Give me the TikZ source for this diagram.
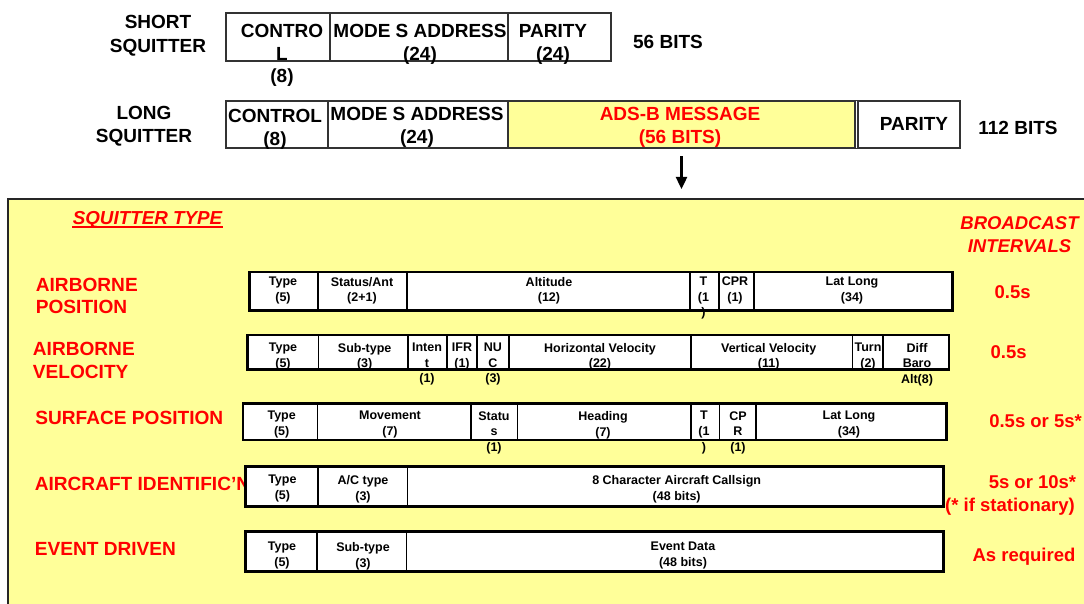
\documentclass[tikz,border=0pt]{standalone}
\usepackage{fontspec}
\setmainfont{Liberation Sans}
\usetikzlibrary{fit,arrows.meta}
\definecolor{pyellow}{HTML}{FFFF99}
\definecolor{pred}{HTML}{FF0000}
\definecolor{boxgray}{HTML}{333333}
\newcommand{\bigfnt}{\fontsize{9.25}{11}\selectfont\bfseries}
\newcommand{\leftfnt}{\fontsize{9.55}{11}\selectfont\bfseries}
\newcommand{\topfnt}{\fontsize{9.5}{11.25}\selectfont\bfseries}
\newcommand{\fieldfnt}{\fontsize{6.25}{7.8}\selectfont\bfseries}
\newcommand{\bitfld}[5]{%
  \node[fieldbox, fit={(#2,\rowtop) (#3,\rowbot)}] (#1) {};
  \node[fieldtxt] (#1t) at (#4,\rowtxt) {#5};}
\begin{document}
\begin{tikzpicture}[x=0.5pt,y=-0.5pt,
  fieldbox/.style={draw=black, fill=white, line width=0.75pt, inner sep=0pt},
  fieldtxt/.style={anchor=north, align=center, inner sep=0pt, font=\fieldfnt},
  topbox/.style={draw=boxgray, fill=white, line width=0.7pt, inner sep=0pt},
  toptxt/.style={anchor=north, align=center, inner sep=0pt, font=\topfnt},
  outlinebox/.style={draw=black, line width=1pt},
  panelbox/.style={draw=black!85, fill=pyellow, line width=1pt, inner sep=0pt},
  redlbl/.style={text=pred, inner sep=0pt, font=\bigfnt},
  leftlbl/.style={text=pred, inner sep=0pt, font=\leftfnt},
  arr/.style={-{Triangle[length=6pt,width=5.5pt]}, line width=1.2pt, black}]
\useasboundingbox (0,0) rectangle (1084,604);
\clip (0,0) rectangle (1084,604);

% ---------- short squitter ----------
\node[toptxt, font={\fontsize{9.5}{12}\selectfont\bfseries}] (shortlbl) at (158,15.2) {SHORT\\SQUITTER};
\node[topbox, fit={(226,13) (330,61)}] (sc) {};
\node[topbox, fit={(330,13) (508,61)}] (sm) {};
\node[topbox, fit={(508,13) (611,61)}] (sp) {};
\node[toptxt] (sct) at (282,24.2) {CONTRO\\L\\(8)};
\node[toptxt] (smt) at (420,24.2) {MODE S ADDRESS\\(24)};
\node[toptxt] (spt) at (553,24.2) {PARITY\\(24)};
\node[inner sep=0pt, font=\topfnt, anchor=base] (shortbits) at (668,48.8) {56 BITS};

% ---------- long squitter ----------
\node[toptxt, font={\fontsize{9.5}{11.5}\selectfont\bfseries}] (longlbl) at (144,106.2) {LONG\\SQUITTER};
\node[topbox, fit={(226,101) (328,148)}] (lc) {};
\node[topbox, fit={(328,101) (508,148)}] (lm) {};
\node[topbox, fit={(858,101) (960,148)}] (lp) {};
\node[topbox, fill=pyellow, line width=1.1pt, fit={(508,101) (855,148)}] (la) {};
\draw[draw=boxgray, line width=0.7pt] (lc.north west) rectangle (lp.south east);
\node[toptxt] (lct) at (275,109.2) {CONTROL\\(8)};
\node[toptxt] (lmt) at (417,107.2) {MODE S ADDRESS\\(24)};
\node[toptxt, text=pred] (lat) at (680,107.2) {ADS-B MESSAGE\\(56 BITS)};
\node[toptxt] (lpt) at (914,117.2) {PARITY};
\node[inner sep=0pt, font=\topfnt, anchor=base] (longbits) at (1018,134.8) {112 BITS};

% ---------- panel ----------
\node[panelbox, fit={(8,199) (1092,614)}] (panel) {};
\draw[arr, shorten <=3.5pt, shorten >=4.5pt] (la.south) -- (la.south |- panel.north);

\node[redlbl, font={\fontsize{9.4}{11}\selectfont\bfseries\itshape}, anchor=base] (sqt) at (147.5,225) {SQUITTER TYPE};
\draw[pred, line width=0.8pt] ([yshift=-0.9pt]sqt.base west) -- ([yshift=-0.9pt]sqt.base east);
\node[redlbl, font={\fontsize{9.25}{11.5}\selectfont\bfseries\itshape}, anchor=north, align=center] (bint) at (1019.5,216.4) {BROADCAST\\INTERVALS};

\node[leftlbl, anchor=north west, align=left] (lab1) at (35.5,278.2) {AIRBORNE\\POSITION};
\node[leftlbl, anchor=north west, align=left, font={\fontsize{9.55}{11.5}\selectfont\bfseries}] (lab2) at (32.5,342.2) {AIRBORNE\\VELOCITY};
\node[leftlbl, anchor=base west] (lab3) at (35,424.8) {SURFACE POSITION};
\node[leftlbl, anchor=base west] (lab4) at (34.4,491) {AIRCRAFT IDENTIFIC’N};
\node[leftlbl, anchor=base west] (lab5) at (34.4,555.8) {EVENT DRIVEN};

\node[redlbl, anchor=base] (int1) at (1012.7,298.3) {0.5s};
\node[redlbl, anchor=base] (int2) at (1008.7,358.3) {0.5s};
\node[redlbl, anchor=base] (int3) at (1035.6,427.6) {0.5s or 5s*};
\node[redlbl, anchor=base] (int4) at (1032.5,488.3) {5s or 10s*};
\node[redlbl, anchor=base] (int5) at (1010,512) {(* if stationary)};
\node[redlbl, anchor=base] (int6) at (1024,561.6) {As required};

% ---------- row 1: airborne position ----------
\def\rowtop{272.5}\def\rowbot{310}\def\rowtxt{276.6}
\bitfld{ra1}{250}{318}{283}{Type\\(5)}
\bitfld{ra2}{318}{407}{362}{Status/Ant\\(2+1)}
\bitfld{ra3}{407}{690}{549}{Altitude\\(12)}
\bitfld{ra4}{690}{719}{703.5}{T\\(1\\)}
\bitfld{ra5}{719}{754}{735}{CPR\\(1)}
\bitfld{ra6}{754}{952}{852}{Lat Long\\(34)}
\draw[outlinebox] (ra1.north west) rectangle (ra6.south east);

% ---------- row 2: airborne velocity ----------
\def\rowtop{335.5}\def\rowbot{369}\def\rowtxt{342.6}
\bitfld{rb1}{248}{318.7}{283}{Type\\(5)}
\bitfld{rb2}{318.7}{408}{364.7}{Sub-type\\(3)}
\bitfld{rb3}{408}{447}{427}{Inten\\t\\(1)}
\bitfld{rb4}{447}{477}{462}{IFR\\(1)}
\bitfld{rb5}{477}{509}{493}{NU\\C\\(3)}
\bitfld{rb6}{509}{691}{600}{Horizontal Velocity\\(22)}
\bitfld{rb7}{691}{852.7}{768.7}{Vertical Velocity\\(11)}
\bitfld{rb8}{852.7}{883}{868}{Turn\\(2)}
\bitfld{rb9}{883}{948.7}{917}{Diff\\Baro\\Alt(8)}
\draw[outlinebox] (rb1.north west) rectangle (rb9.south east);

% ---------- row 3: surface position ----------
\def\rowtop{404}\def\rowbot{439.5}\def\rowtxt{411}
\bitfld{rc1}{243.3}{317.7}{281.7}{Type\\(5)}
\bitfld{rc2}{317.7}{471}{390}{Movement\\(7)}
\bitfld{rc3}{471}{517.7}{494}{Statu\\s\\(1)}
\bitfld{rc4}{517.7}{691}{603}{Heading\\(7)}
\bitfld{rc5}{691}{719.3}{704}{T\\(1\\)}
\bitfld{rc6}{719.3}{756}{738}{CP\\R\\(1)}
\bitfld{rc7}{756}{946}{849}{Lat Long\\(34)}
\draw[outlinebox] (rc1.north west) rectangle (rc7.south east);

% ---------- row 4: aircraft identification ----------
\def\rowtop{467}\def\rowbot{506}\def\rowtxt{475}
\bitfld{rd1}{246}{317.8}{282.4}{Type\\(5)}
\bitfld{rd2}{317.8}{407.4}{363}{A/C type\\(3)}
\bitfld{rd3}{407.4}{943}{676.7}{8 Character Aircraft Callsign\\(48 bits)}
\draw[outlinebox] (rd1.north west) rectangle (rd3.south east);

% ---------- row 5: event driven ----------
\def\rowtop{532}\def\rowbot{571}\def\rowtxt{542}
\bitfld{re1}{246}{317}{282}{Type\\(5)}
\bitfld{re2}{317}{406.7}{363}{Sub-type\\(3)}
\bitfld{re3}{406.7}{943}{683}{Event Data\\(48 bits)}
\draw[outlinebox] (re1.north west) rectangle (re3.south east);
\end{tikzpicture}
\end{document}
